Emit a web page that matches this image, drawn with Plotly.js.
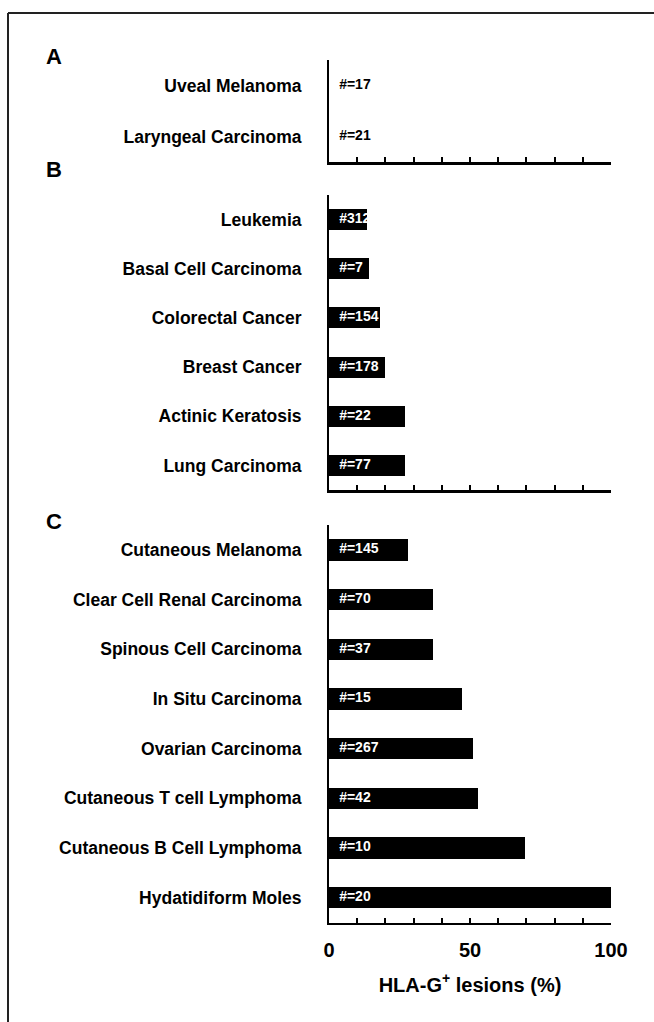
<!DOCTYPE html>
<html>
<head>
<meta charset="utf-8">
<script src="https://cdn.plot.ly/plotly-3.0.1.min.js"></script>
<style>html,body{margin:0;padding:0;background:#fff;}#chart{width:654px;height:1022px;}</style>
</head>
<body>
<div id="chart"></div>
<script>
// ---- Data ----
const catsA = ['Uveal Melanoma', 'Laryngeal Carcinoma'];
const valsA = [0, 0];
const nA = ['#=17', '#=21'];

const catsB = ['Leukemia', 'Basal Cell Carcinoma', 'Colorectal Cancer', 'Breast Cancer', 'Actinic Keratosis', 'Lung Carcinoma'];
const valsB = [13.4, 14.2, 18.1, 20, 27, 27];
const nB = ['#312', '#=7', '#=154', '#=178', '#=22', '#=77'];

const catsC = ['Cutaneous Melanoma', 'Clear Cell Renal Carcinoma', 'Spinous Cell Carcinoma', 'In Situ Carcinoma', 'Ovarian Carcinoma', 'Cutaneous T cell Lymphoma', 'Cutaneous B Cell Lymphoma', 'Hydatidiform Moles'];
const valsC = [27.9, 36.8, 36.8, 47.3, 50.9, 52.7, 69.6, 100];
const nC = ['#=145', '#=70', '#=37', '#=15', '#=267', '#=42', '#=10', '#=20'];

const panelLetters = ['A', 'B', 'C'];
const xTickVals = [0, 50, 100];
const xTickText = ['0', '50', '100'];
const xTitle = 'HLA-G<sup>+</sup> lesions (%)';

// ---- Build ----
const FONT = 'Liberation Sans, Arial, Helvetica, sans-serif';
const W = 654, H = 1022;
const L = 329, R = 43;
const pw = W - L - R;
const px2x = p => (p - L) / pw;
const py2y = p => 1 - p / H;

const panels = [
  {cats: catsA, vals: valsA, n: nA, top: 60, bot: 162, txtColor: '#000'},
  {cats: catsB, vals: valsB, n: nB, top: 195, bot: 490, txtColor: '#fff'},
  {cats: catsC, vals: valsC, n: nC, top: 525, bot: 922.5, txtColor: '#fff'}
];

const labelX = 3.6;
const data = [];
const layout = {
  width: W, height: H,
  margin: {l: L, r: R, t: 0, b: 0, pad: 0},
  paper_bgcolor: '#fff', plot_bgcolor: 'rgba(0,0,0,0)',
  showlegend: false,
  font: {family: FONT, color: '#000'},
  bargap: 0,
  shapes: [
    {type: 'line', xref: 'paper', yref: 'paper', x0: px2x(8), x1: px2x(700), y0: py2y(13), y1: py2y(13), line: {color: '#222', width: 2}},
    {type: 'line', xref: 'paper', yref: 'paper', x0: px2x(8), x1: px2x(8), y0: py2y(13), y1: py2y(1030), line: {color: '#222', width: 2}}
  ],
  annotations: []
};

const letterY = [57, 170, 521];
panels.forEach((p, i) => {
  const k = i === 0 ? '' : String(i + 1);
  const xa = 'x' + k, ya = 'y' + k;
  data.push({
    type: 'bar', orientation: 'h',
    x: p.vals, y: p.cats,
    xaxis: xa, yaxis: ya,
    marker: {color: '#000', line: {width: 0}},
    width: 0.43,
    hoverinfo: 'skip'
  });
  data.push({
    type: 'scatter', mode: 'text',
    x: p.cats.map(() => labelX), y: p.cats,
    text: p.n,
    textposition: 'middle right',
    textfont: {family: FONT, size: 14, color: p.txtColor, weight: 'bold'},
    xaxis: xa, yaxis: ya,
    hoverinfo: 'skip', cliponaxis: false
  });
  const isLast = i === panels.length - 1;
  const xaxis = {
    anchor: ya,
    domain: [0, 1],
    range: [0, 100],
    fixedrange: true,
    showgrid: false, zeroline: false,
    showline: true, linecolor: '#000', linewidth: 2.5,
    ticks: 'inside', ticklen: 5, tickwidth: 2, tickcolor: '#000',
    tickmode: 'array', tickvals: xTickVals, ticktext: xTickText,
    minor: {dtick: 10, tick0: 0, ticks: 'inside', ticklen: 5, tickwidth: 2, tickcolor: '#000', showgrid: false},
    showticklabels: isLast,
    ticklabelstandoff: 8,
    tickfont: {family: FONT, size: 20, color: '#000', weight: 'bold'}
  };
  if (isLast) {
    xaxis.title = {text: xTitle, font: {family: FONT, size: 20, color: '#000', weight: 'bold'}, standoff: 18};
  }
  layout['xaxis' + k] = xaxis;
  layout['yaxis' + k] = {
    anchor: xa,
    domain: [py2y(p.bot), py2y(p.top)],
    type: 'category',
    categoryorder: 'array', categoryarray: p.cats,
    range: [p.cats.length - 0.5, -0.5],
    fixedrange: true,
    showgrid: false, zeroline: false,
    showline: true, linecolor: '#000', linewidth: 2,
    ticks: '',
    ticklabelstandoff: 22,
    tickfont: {family: FONT, size: 17.5, color: '#000', weight: 'bold'}
  };
  layout.annotations.push({
    text: panelLetters[i], xref: 'paper', yref: 'paper',
    x: px2x(44), y: py2y(letterY[i]), xanchor: 'left', yanchor: 'middle',
    showarrow: false,
    font: {family: FONT, size: 22, color: '#000', weight: 'bold'}
  });
});

Plotly.newPlot('chart', data, layout, {staticPlot: true, displayModeBar: false});
</script>
</body>
</html>
